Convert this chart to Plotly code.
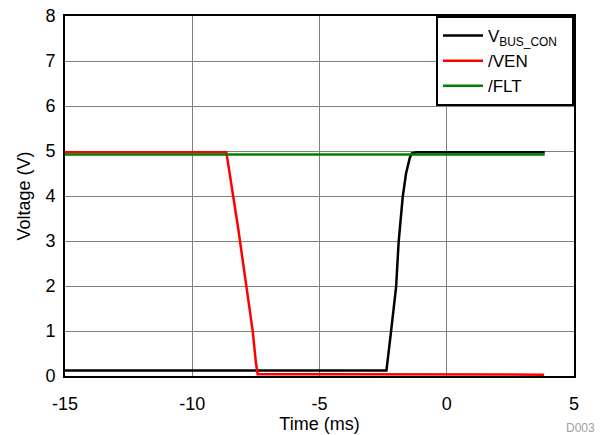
import plotly.graph_objects as go

# VBUS_CON (black)
t_vbus = [-15, -10, -5, -2.5, -2.37, -2.19, -1.99, -1.89, -1.73, -1.60, -1.45, -1.37, -1.2, 0, 3.85]
v_vbus = [0.12, 0.12, 0.11, 0.11, 0.12, 0.98, 1.98, 2.98, 3.98, 4.5, 4.85, 4.95, 4.97, 4.97, 4.97]
# /VEN (red)
t_ven = [-15, -10, -8.66, -8.2, -7.62, -7.5, -7.43, -5, 0, 3.82]
v_ven = [4.97, 4.97, 4.97, 3.3, 0.98, 0.3, 0.04, 0.04, 0.03, 0.03]
# /FLT (green)
t_flt = [-15, -10, -5, 0, 3.85]
v_flt = [4.92, 4.92, 4.92, 4.92, 4.92]

x_ticks = [-15, -10, -5, 0, 5]
y_ticks = [0, 1, 2, 3, 4, 5, 6, 7, 8]

fig = go.Figure()
fig.add_trace(go.Scatter(x=t_vbus, y=v_vbus, mode="lines", name="V<sub>BUS_CON</sub>&nbsp;&nbsp;",
                         line=dict(color="black", width=2.5)))
fig.add_trace(go.Scatter(x=t_ven, y=v_ven, mode="lines", name="/VEN",
                         line=dict(color="#ff0000", width=2.5)))
fig.add_trace(go.Scatter(x=t_flt, y=v_flt, mode="lines", name="/FLT",
                         line=dict(color="#008000", width=2.5)))

font = "Liberation Sans, Arial, sans-serif"
fig.update_layout(
    width=612, height=435,
    margin=dict(l=65, r=38, t=16, b=59, autoexpand=False),
    paper_bgcolor="white", plot_bgcolor="white",
    font=dict(family=font, size=18, color="black"),
    showlegend=True,
    legend=dict(x=1, y=1, xanchor="right", yanchor="top",
                bordercolor="black", borderwidth=2, bgcolor="white",
                font=dict(size=17), tracegroupgap=0, itemwidth=40),
    xaxis=dict(range=[-15, 5], tickvals=x_ticks, ticktext=[str(v) for v in x_ticks],
               showgrid=True, gridcolor="#808080", gridwidth=1,
               showline=True, linecolor="black", linewidth=2, mirror=True,
               ticks="", zeroline=False, ticklabelstandoff=10, automargin=False,
               title=dict(text="Time (ms)", font=dict(size=18), standoff=0)),
    yaxis=dict(range=[0, 8], tickvals=y_ticks, ticktext=[str(v) for v in y_ticks],
               showgrid=True, gridcolor="#808080", gridwidth=1,
               showline=True, linecolor="black", linewidth=2, mirror=True,
               ticks="", zeroline=False, ticklabelstandoff=4, automargin=False,
               title=dict(text="Voltage (V)", font=dict(size=18), standoff=10)),
)
fig.add_annotation(text="D003", xref="paper", yref="paper", x=1.045, y=-0.144,
                   xanchor="right", yanchor="middle", showarrow=False,
                   font=dict(size=12, color="#a0a0a0"))
fig.write_html("out.html")
